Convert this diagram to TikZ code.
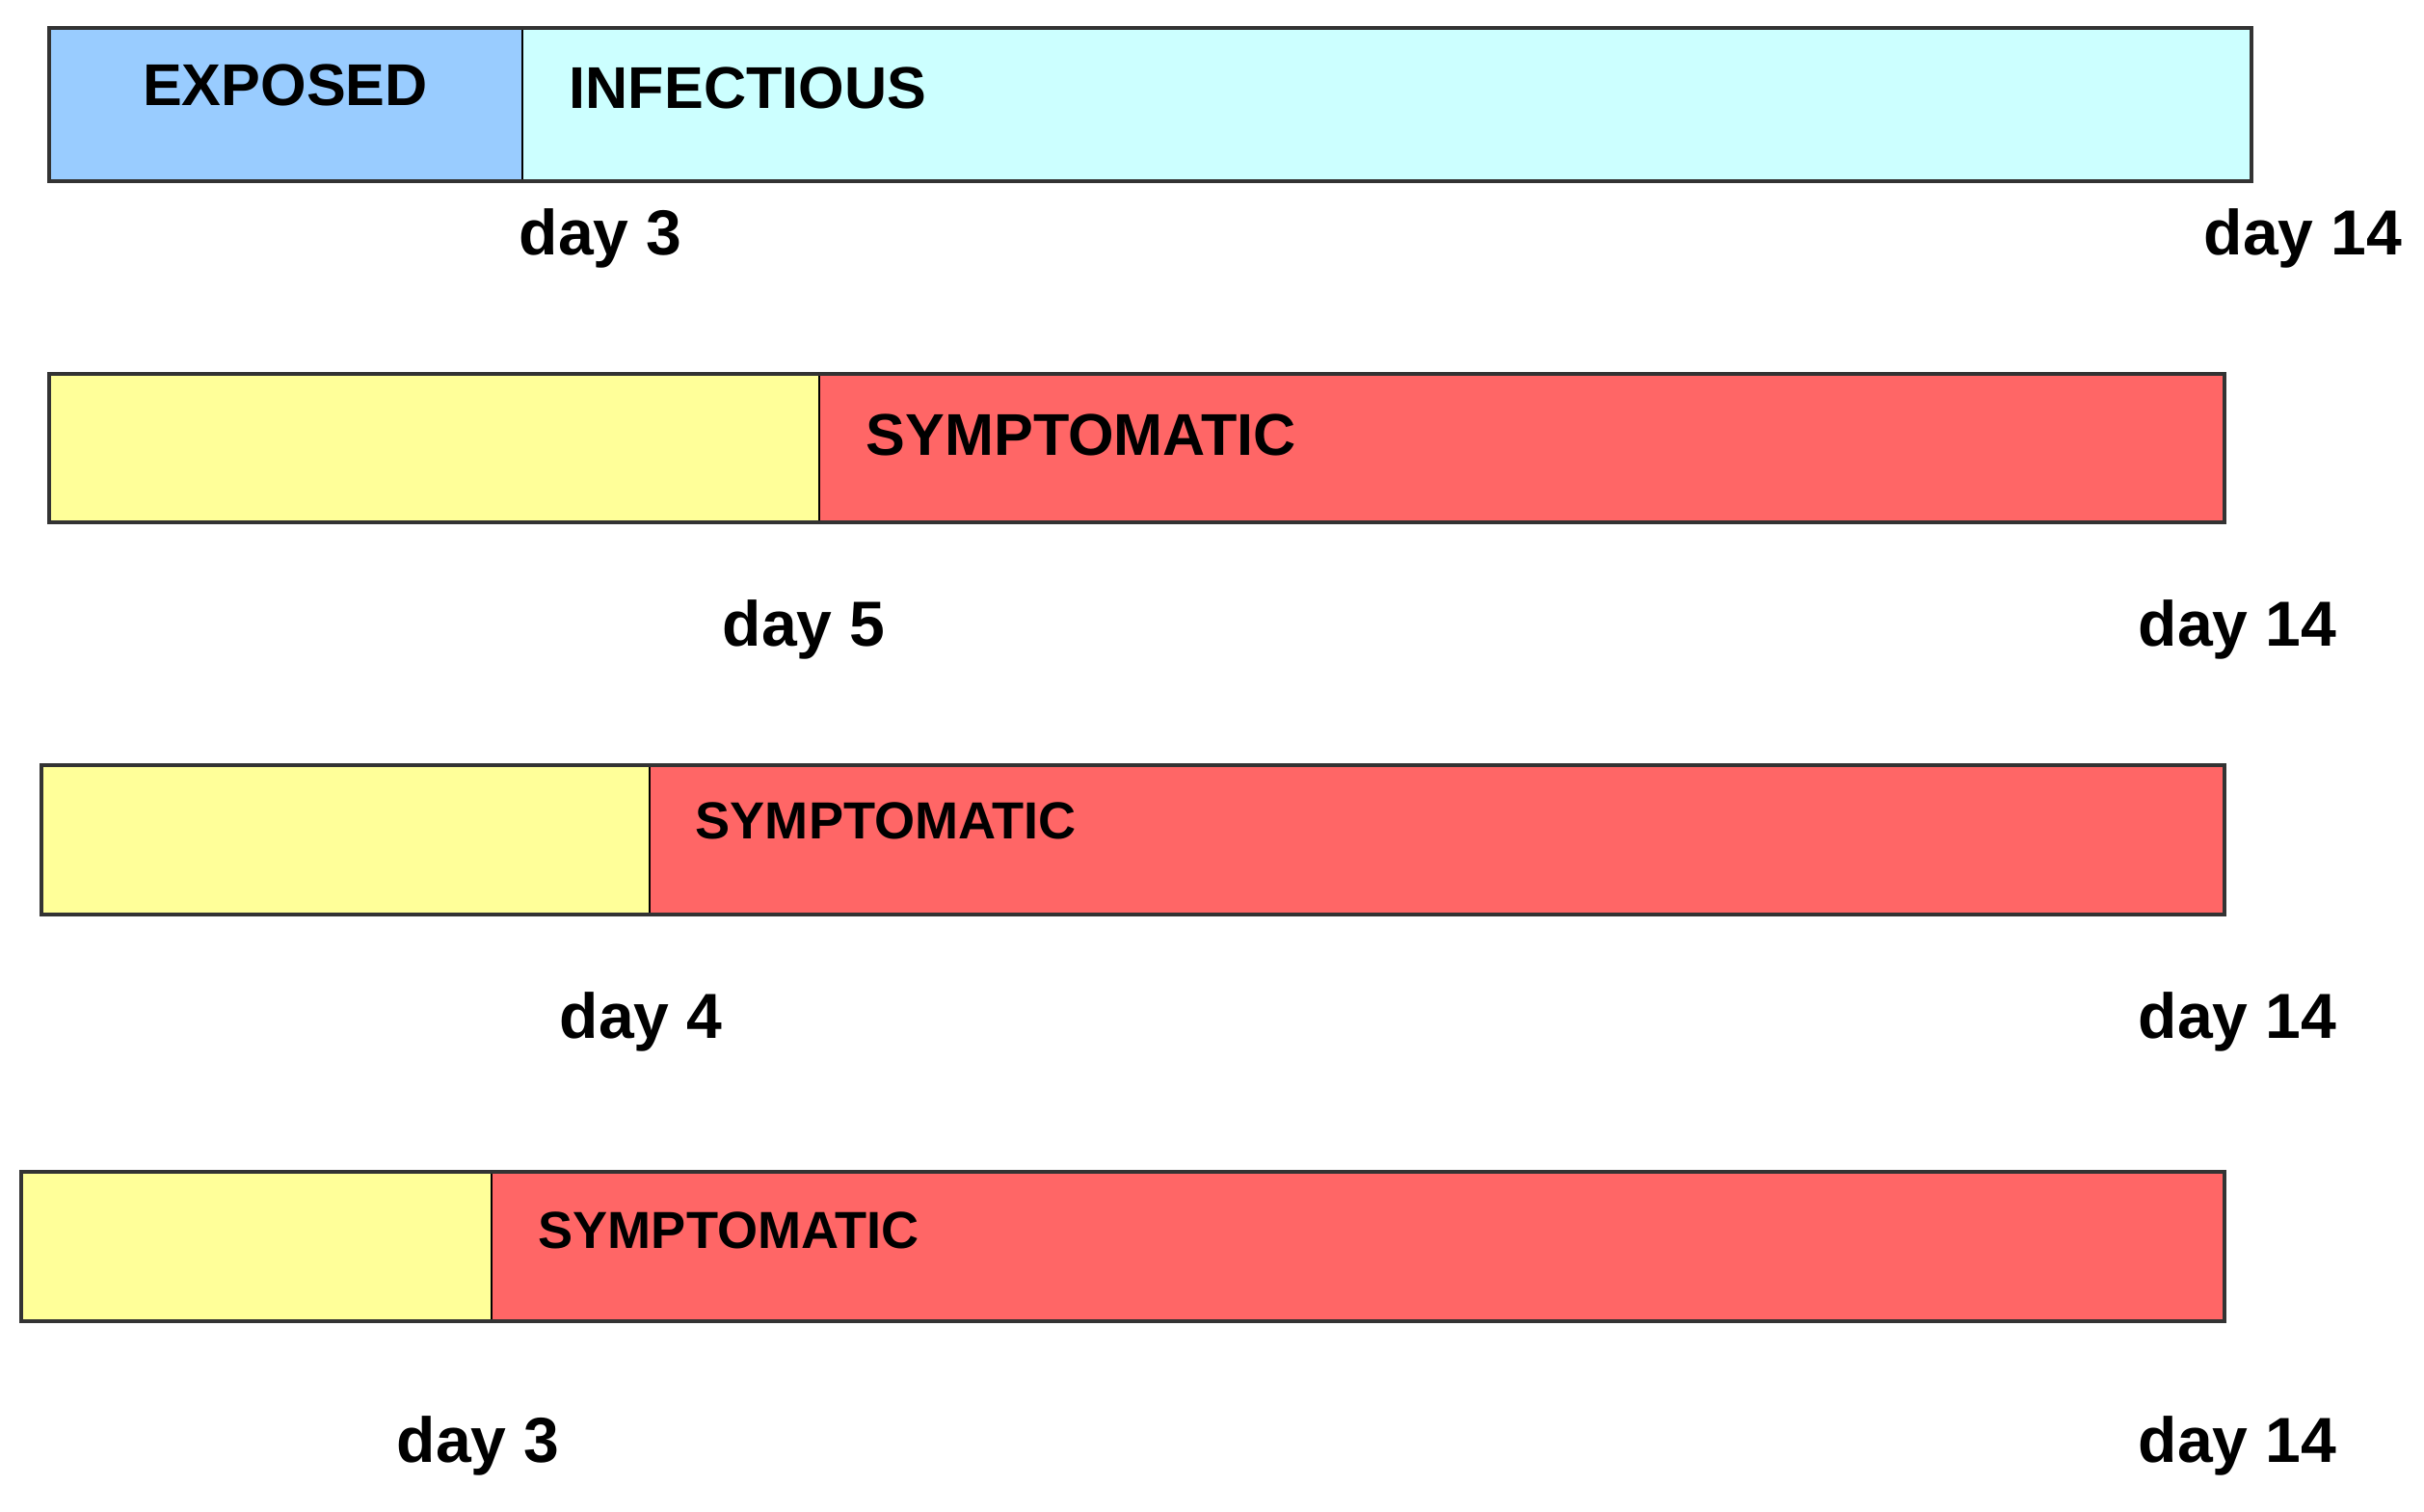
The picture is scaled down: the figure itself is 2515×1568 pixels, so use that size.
\documentclass[tikz,border=0pt]{standalone}
\usepackage{fontspec}
\setmainfont{Liberation Sans}
\definecolor{exposedc}{HTML}{99CCFF}
\definecolor{infectc}{HTML}{CCFFFF}
\definecolor{latentc}{HTML}{FFFF99}
\definecolor{sympc}{HTML}{FF6666}
\definecolor{barline}{HTML}{333333}
\begin{document}
\begin{tikzpicture}[x=0.1mm,y=-0.1mm,
  lbl/.style={font=\bfseries\fontsize{17.4}{20}\selectfont, inner sep=0pt, anchor=west},
  lblsm/.style={font=\bfseries\fontsize{15.4}{18}\selectfont, inner sep=0pt, anchor=west},
  daylbl/.style={font=\bfseries\fontsize{18.8}{22}\selectfont, inner sep=0pt, anchor=base west},
  border/.style={draw=barline, line width=1.1pt},
  divider/.style={draw=black, line width=0.7pt}]
\useasboundingbox[fill=white] (0,0) rectangle (2515,1568);

% Row 1
\fill[exposedc] (51,29) rectangle (542,188);
\fill[infectc] (542,29) rectangle (2336,188);
\draw[divider] (542,29) -- (542,188);
\draw[border] (51,29) rectangle (2336,188);
\node[lbl, anchor=center] (exposed) at (296,88) {EXPOSED};
\node[lbl] (infectious) at (590,91) {INFECTIOUS};
\node[daylbl] (r1a) at (538,264) {day 3};
\node[daylbl] (r1b) at (2286,264) {day 14};

% Row 2
\fill[latentc] (51,388) rectangle (850,542);
\fill[sympc] (850,388) rectangle (2308,542);
\draw[divider] (850,388) -- (850,542);
\draw[border] (51,388) rectangle (2308,542);
\node[lbl] (s2) at (898,451) {SYMPTOMATIC};
\node[daylbl] (r2a) at (749,670) {day 5};
\node[daylbl] (r2b) at (2218,670) {day 14};

% Row 3
\fill[latentc] (43,794) rectangle (674,949);
\fill[sympc] (674,794) rectangle (2308,949);
\draw[divider] (674,794) -- (674,949);
\draw[border] (43,794) rectangle (2308,949);
\node[lblsm] (s3) at (721,852) {SYMPTOMATIC};
\node[daylbl] (r3a) at (580,1077) {day 4};
\node[daylbl] (r3b) at (2218,1077) {day 14};

% Row 4
\fill[latentc] (22,1216) rectangle (510,1371);
\fill[sympc] (510,1216) rectangle (2308,1371);
\draw[divider] (510,1216) -- (510,1371);
\draw[border] (22,1216) rectangle (2308,1371);
\node[lblsm] (s4) at (558,1277) {SYMPTOMATIC};
\node[daylbl] (r4a) at (411,1517) {day 3};
\node[daylbl] (r4b) at (2218,1517) {day 14};
\end{tikzpicture}
\end{document}
